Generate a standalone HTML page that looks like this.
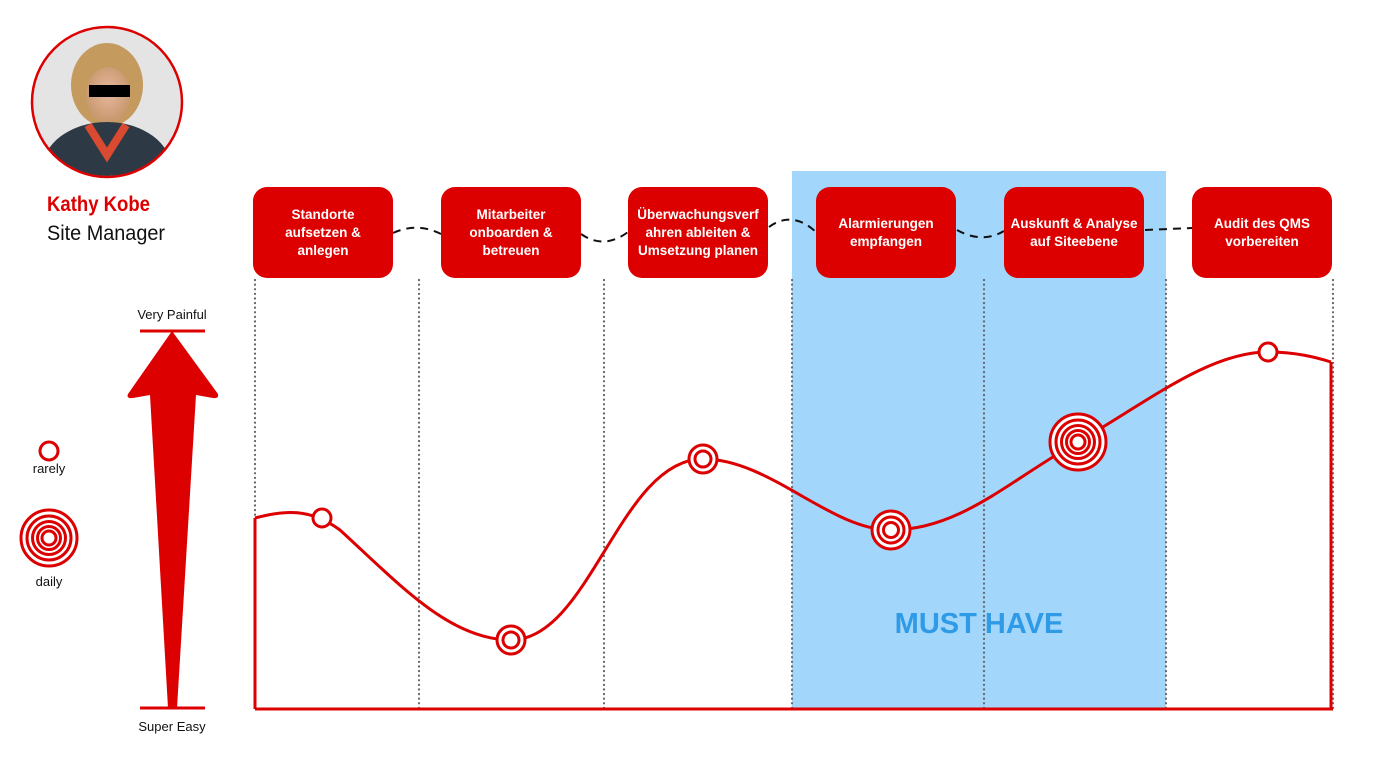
<!DOCTYPE html>
<html><head><meta charset="utf-8"><style>
html,body{margin:0;padding:0;background:#fff;}
body{width:1400px;height:771px;overflow:hidden;position:relative;font-family:"Liberation Sans",sans-serif;}
.box{position:absolute;top:187px;width:140px;height:91px;background:#dc0000;border-radius:14px;color:#fff;font-weight:bold;font-size:13.5px;line-height:18px;display:flex;align-items:center;justify-content:center;text-align:center;}
</style></head><body>
<svg width="1400" height="771" style="position:absolute;left:0;top:0">
<defs><clipPath id="cc"><circle cx="107" cy="102" r="74"/></clipPath>
<radialGradient id="face" cx="50%" cy="45%" r="50%"><stop offset="0" stop-color="#e8b8a0"/><stop offset="1" stop-color="#c99a70"/></radialGradient></defs>
<rect x="792" y="171" width="374" height="537" fill="#a3d6fb"/>
<g clip-path="url(#cc)">
<rect x="30" y="25" width="160" height="160" fill="#e4e4e4"/>
<ellipse cx="107" cy="85" rx="36" ry="42" fill="#c49a5e"/>
<ellipse cx="108" cy="95" rx="22" ry="28" fill="url(#face)"/>
<ellipse cx="107" cy="170" rx="65" ry="48" fill="#2d3a45"/>
<path d="M88,125 L107,155 L126,125" fill="none" stroke="#d94a30" stroke-width="8"/>
</g>
<circle cx="107" cy="102" r="75" fill="none" stroke="#dc0000" stroke-width="2.5"/>
<rect x="89" y="85" width="41" height="12" fill="#000"/>
<g stroke="#666" stroke-width="2.2" stroke-dasharray="0.1 4.5" stroke-linecap="round">
<line x1="255" y1="280" x2="255" y2="708"/><line x1="419" y1="280" x2="419" y2="708"/>
<line x1="604" y1="280" x2="604" y2="708"/><line x1="792" y1="280" x2="792" y2="708"/>
<line x1="984" y1="280" x2="984" y2="708"/><line x1="1166" y1="280" x2="1166" y2="708"/>
<line x1="1333" y1="280" x2="1333" y2="708"/>
</g>
<g fill="none" stroke="#111" stroke-width="2" stroke-dasharray="8 6">
<path d="M393,233 Q417,222 441,234"/>
<path d="M581,234 Q604,250 628,232"/>
<path d="M769,227 Q792,210 816,232"/>
<path d="M957,230 Q982,244 1004,231"/>
<path d="M1145,230 L1192,228"/>
</g>
<g stroke="#dc0000" stroke-width="3" fill="none">
<line x1="255" y1="709" x2="1333" y2="709"/>
<line x1="255" y1="518" x2="255" y2="709"/>
<line x1="1331" y1="362" x2="1331" y2="709"/>
<path d="M255,518 C285,510 310,508 340,530 C400,585 450,640 511,640 C590,640 620,459 703,459 C770,459 830,530 891,530 C960,530 1010,480 1078,442 C1150,400 1210,352 1268,352 C1295,352 1315,357 1331,362"/>
<line x1="140" y1="331" x2="205" y2="331"/>
<line x1="140" y1="708" x2="205" y2="708"/>
</g>
<path d="M172,331 L218,394 Q219,399 213,398 L196,395 L177,708 L168,708 L150,395 L133,398 Q126,399 128,394 Z" fill="#dc0000"/>
<g fill="#fff" stroke="#dc0000" stroke-width="3">
<circle cx="322" cy="518" r="9"/>
<circle cx="1268" cy="352" r="9"/>
<circle cx="49" cy="451" r="9"/>
<circle cx="511" cy="640" r="14"/><circle cx="511" cy="640" r="8"/>
<circle cx="703" cy="459" r="14"/><circle cx="703" cy="459" r="8"/>
<circle cx="891" cy="530" r="19"/><circle cx="891" cy="530" r="13"/><circle cx="891" cy="530" r="7.5"/>
<circle cx="1078" cy="442" r="28"/><circle cx="1078" cy="442" r="22"/><circle cx="1078" cy="442" r="16.5"/><circle cx="1078" cy="442" r="11.5"/><circle cx="1078" cy="442" r="7"/>
<circle cx="49" cy="538" r="28"/><circle cx="49" cy="538" r="22"/><circle cx="49" cy="538" r="16.5"/><circle cx="49" cy="538" r="11.5"/><circle cx="49" cy="538" r="7"/>
</g>
<g font-family="Liberation Sans, sans-serif" font-size="13" fill="#111" text-anchor="middle">
<text x="172" y="319">Very Painful</text>
<text x="172" y="731">Super Easy</text>
<text x="49" y="473">rarely</text>
<text x="49" y="586">daily</text>
</g>
<text x="979" y="633" text-anchor="middle" font-family="Liberation Sans, sans-serif" font-weight="bold" font-size="29" fill="#2f9be6">MUST HAVE</text>
<text x="47" y="211" textLength="103" lengthAdjust="spacingAndGlyphs" font-family="Liberation Sans, sans-serif" font-weight="bold" font-size="21" fill="#dc0000">Kathy Kobe</text>
<text x="47" y="240" textLength="118" lengthAdjust="spacingAndGlyphs" font-family="Liberation Sans, sans-serif" font-size="21" fill="#111">Site Manager</text>
</svg>
<div class="box" style="left:253px">Standorte<br>aufsetzen &amp;<br>anlegen</div>
<div class="box" style="left:441px">Mitarbeiter<br>onboarden &amp;<br>betreuen</div>
<div class="box" style="left:628px">Überwachungsverf<br>ahren ableiten &amp;<br>Umsetzung planen</div>
<div class="box" style="left:816px">Alarmierungen<br>empfangen</div>
<div class="box" style="left:1004px">Auskunft &amp; Analyse<br>auf Siteebene</div>
<div class="box" style="left:1192px">Audit des QMS<br>vorbereiten</div>
</body></html>
